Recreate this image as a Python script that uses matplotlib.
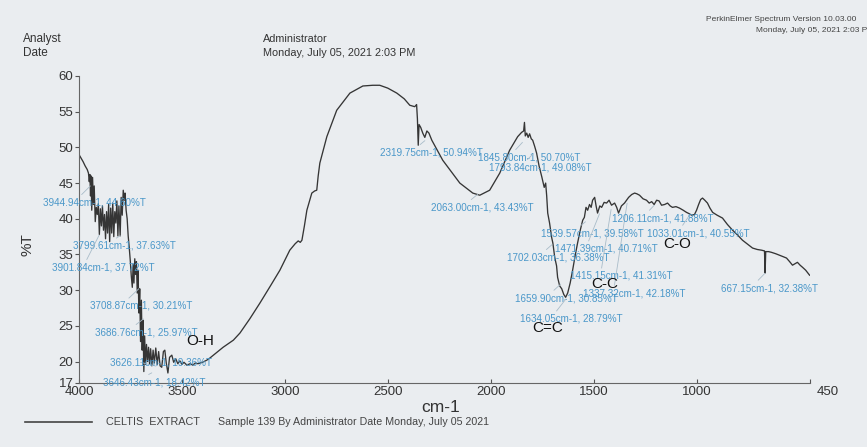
import matplotlib
matplotlib.use('Agg')
import matplotlib.pyplot as plt
import matplotlib.lines as mlines
import matplotlib.transforms as mtransforms

plt.rcParams['font.family'] = ['Liberation Sans', 'DejaVu Sans']

# FT-IR spectrum of the Celtis extract
wavenumber = [4000, 3990, 3980, 3970, 3960, 3954, 3950, 3947, 3944, 3941, 3938, 3934, 3930, 3926,
              3921, 3916, 3911, 3906, 3901, 3896, 3891, 3886, 3881, 3876, 3871, 3866, 3861, 3856,
              3851, 3846, 3841, 3836, 3831, 3826, 3821, 3816, 3811, 3806, 3800, 3795, 3790, 3785,
              3780, 3776, 3771, 3766, 3761, 3756, 3751, 3746, 3741, 3737, 3733, 3729, 3725, 3721,
              3717, 3713, 3709, 3705, 3701, 3697, 3693, 3689, 3685, 3681, 3677, 3672, 3667, 3662,
              3657, 3652, 3646, 3640, 3634, 3627, 3620, 3613, 3606, 3598, 3590, 3583, 3576, 3568,
              3560, 3549, 3540, 3530, 3520, 3510, 3500, 3490, 3476, 3460, 3447, 3435, 3422, 3400,
              3379, 3364, 3300, 3250, 3218, 3170, 3121, 3070, 3024, 2976, 2950, 2935, 2925, 2917,
              2905, 2893, 2869, 2855, 2845, 2838, 2830, 2796, 2748, 2684, 2621, 2573, 2539, 2500,
              2456, 2420, 2393, 2369, 2360, 2356, 2352, 2348, 2340, 2330, 2320, 2310, 2300, 2286,
              2233, 2150, 2087, 2053, 2005, 1956, 1908, 1869, 1850, 1840, 1836, 1832, 1825, 1818,
              1811, 1803, 1796, 1787, 1777, 1765, 1752, 1740, 1733, 1728, 1723, 1714, 1704, 1698,
              1689, 1680, 1675, 1665, 1655, 1645, 1636, 1626, 1614, 1602, 1590, 1578, 1565, 1553,
              1545, 1537, 1529, 1520, 1512, 1505, 1495, 1488, 1481, 1470, 1461, 1449, 1437, 1425,
              1413, 1398, 1388, 1379, 1365, 1350, 1340, 1330, 1315, 1301, 1290, 1277, 1260, 1243,
              1230, 1218, 1206, 1194, 1182, 1170, 1155, 1141, 1128, 1117, 1100, 1083, 1065, 1049,
              1035, 1024, 1010, 1000, 990, 980, 971, 960, 947, 935, 922, 900, 874, 850,
              825, 800, 777, 750, 728, 705, 684, 670, 667, 664, 650, 636, 615, 597,
              580, 563, 548, 534, 522, 510, 497, 485, 470, 451]
transmittance = [49.0, 48.5, 48.0, 47.4, 46.9, 46.4, 45.2, 46.2, 43.2, 46.0, 41.2, 45.8, 42.0, 44.6,
                 39.6, 41.6, 40.6, 42.1, 37.8, 41.4, 39.0, 41.8, 38.4, 40.6, 37.2, 41.0, 38.0, 42.0,
                 36.8, 41.5, 38.0, 42.2, 37.5, 41.0, 39.4, 42.5, 37.6, 41.8, 37.6, 43.0, 40.5, 44.0,
                 42.6, 43.6, 41.2, 40.0, 37.6, 36.0, 34.2, 32.0, 30.4, 33.6, 31.0, 34.4, 32.2, 34.0,
                 29.6, 32.8, 26.8, 30.2, 22.8, 28.6, 21.6, 25.8, 18.6, 23.6, 19.6, 22.4, 20.0, 22.0,
                 19.6, 21.8, 19.4, 21.6, 19.8, 21.9, 19.6, 21.4, 19.4, 19.2, 21.4, 21.6, 19.8, 18.4,
                 20.6, 20.9, 19.9, 20.4, 19.7, 20.1, 19.6, 19.9, 19.5, 19.7, 19.5, 19.8, 19.7, 19.9,
                 20.2, 20.5, 22.0, 23.0, 24.0, 26.0, 28.2, 30.6, 32.8, 35.6, 36.5, 36.9, 36.7, 37.0,
                 39.0, 41.2, 43.6, 43.9, 44.0, 46.0, 47.8, 51.5, 55.2, 57.6, 58.6, 58.7, 58.7, 58.3,
                 57.6, 56.8, 55.9, 55.7, 56.0, 54.0, 50.3, 53.2, 52.8, 52.0, 51.4, 52.3, 52.0, 51.0,
                 48.2, 45.0, 43.6, 43.3, 44.0, 46.4, 49.6, 51.5, 52.1, 52.3, 53.5, 51.6, 52.0, 51.4,
                 51.9, 51.2, 51.0, 50.2, 49.2, 47.4, 45.9, 44.4, 45.0, 43.2, 40.8, 39.4, 37.4, 36.6,
                 34.6, 33.4, 31.8, 30.6, 30.2, 29.4, 29.0, 29.6, 31.0, 32.8, 34.8, 36.6, 38.4, 39.8,
                 40.2, 41.6, 41.2, 42.0, 41.6, 42.6, 43.0, 41.8, 40.8, 41.8, 41.6, 42.3, 42.2, 42.6,
                 41.9, 42.2, 41.6, 40.8, 41.8, 42.2, 42.6, 43.0, 43.4, 43.6, 43.5, 43.3, 42.8, 42.6,
                 42.2, 42.4, 42.0, 42.6, 42.5, 41.9, 42.0, 42.2, 41.8, 41.6, 41.7, 41.5, 41.2, 40.9,
                 40.7, 40.5, 40.6, 41.2, 42.0, 42.7, 42.9, 42.6, 42.2, 41.5, 40.9, 40.5, 40.1, 39.2,
                 38.4, 37.7, 37.0, 36.4, 35.9, 35.7, 35.6, 35.5, 32.4, 35.4, 35.4, 35.3, 35.1, 34.9,
                 34.7, 34.5, 34.0, 33.5, 33.7, 33.9, 33.5, 33.2, 32.8, 32.1]

# peak labels printed by the instrument software
peak_wn = [3944.94, 3799.61, 3901.84, 3708.87, 3686.76, 3626.11, 3646.43, 2319.75, 1845.80,
           1793.84, 2063.00, 1539.57, 1033.01, 1471.39, 1702.03, 1415.15, 1337.32, 1659.90,
           1634.05, 1206.11, 667.15]
peak_t = [44.60, 37.63, 37.72, 30.21, 25.97, 19.36, 18.42, 50.94, 50.70,
          49.08, 43.43, 39.58, 40.55, 40.71, 36.38, 41.31, 42.18, 30.85,
          28.79, 41.88, 32.38]
label_x = [4175, 4029, 4131, 3947, 3922, 3850, 3883, 2539, 2063,
           2010, 2291, 1757, 1243, 1689, 1922, 1617, 1554, 1884,
           1859, 1413, 879]
label_y = [42.3, 36.2, 33.2, 27.8, 24.1, 19.9, 17.1, 49.3, 48.6,
           47.2, 41.6, 38.0, 38.0, 35.8, 34.6, 32.0, 29.6, 28.9,
           26.0, 40.1, 30.3]

groups = ['O-H', 'C=C', 'C-C', 'C-O']
group_x = [3413, 1723, 1447, 1092]
group_y = [22.9, 24.7, 30.9, 36.5]

bg = '#eaedf0'
fig = plt.figure(figsize=(8.67, 4.47), dpi=100, facecolor=bg)
ax = fig.add_axes([0.0911, 0.1432, 0.9340 - 0.0911, 0.8300 - 0.1432], facecolor=bg)

ax.plot(wavenumber, transmittance, color='#353535', lw=0.95)

for wn, t, lx, ly in zip(peak_wn, peak_t, label_x, label_y):
    ax.annotate(f'{wn:.2f}cm-1, {t:.2f}%T', xy=(wn, t), xytext=(lx, ly),
                fontsize=7.1, color='#4a97c9', ha='left', va='center',
                arrowprops=dict(arrowstyle='-', color='#a9bcc9', lw=0.6, shrinkA=0, shrinkB=0,
                                relpos=(0.3, 0.5)),
                annotation_clip=False)

for g, gx, gy in zip(groups, group_x, group_y):
    ax.text(gx, gy, g, fontsize=11, color='#111111', ha='center', va='center')

ax.set_xlim(4000, 450)
ax.set_ylim(17, 60)
ax.set_xticks([4000, 3500, 3000, 2500, 2000, 1500, 1000, 450])
ax.set_yticks([17, 20, 25, 30, 35, 40, 45, 50, 55, 60])
ax.set_yticklabels(['17', '20', '25', '30', '35', '40', '45', '50', '55', '60'])
ax.tick_params(axis='x', direction='in', length=3, labelsize=9.5, colors='#555555',
               labelcolor='#333333', pad=2)
ax.tick_params(axis='y', direction='out', length=3, labelsize=9.5, colors='#555555',
               labelcolor='#333333', pad=1)
# the printout puts the last label a bit right of the axis end
last = ax.get_xticklabels()[-1]
last.set_transform(last.get_transform() + mtransforms.ScaledTranslation(0.18, 0, fig.dpi_scale_trans))
for side in ['top', 'right']:
    ax.spines[side].set_visible(False)
for side in ['left', 'bottom']:
    ax.spines[side].set_color('#666666')
    ax.spines[side].set_linewidth(0.8)

W, H = 867, 447
fig.text(28 / W, 1 - 245 / H, '%T', rotation=90, fontsize=11, color='#333333', ha='center', va='center')
fig.text(441 / W, 1 - 408 / H, 'cm-1', fontsize=12.5, color='#333333', ha='center', va='center')

fig.text(23 / W, 1 - 39 / H, 'Analyst', fontsize=8.5, color='#333333', va='center')
fig.text(23 / W, 1 - 53 / H, 'Date', fontsize=8.5, color='#333333', va='center')
fig.text(263 / W, 1 - 39 / H, 'Administrator', fontsize=7.8, color='#333333', va='center')
fig.text(263 / W, 1 - 53 / H, 'Monday, July 05, 2021 2:03 PM', fontsize=7.8, color='#333333', va='center')
fig.text(706 / W, 1 - 19.5 / H, 'PerkinElmer Spectrum Version 10.03.00', fontsize=6.0, color='#444444', va='center')
fig.text(874 / W, 1 - 30 / H, 'Monday, July 05, 2021 2:03 PM', fontsize=6.0, color='#444444',
         va='center', ha='right')

fig.add_artist(mlines.Line2D([25 / W, 92 / W], [1 - 422 / H, 1 - 422 / H], color='#444444', lw=1.2))
fig.text(106 / W, 1 - 422 / H, 'CELTIS  EXTRACT', fontsize=7.8, color='#444444', va='center')
fig.text(218 / W, 1 - 422 / H, 'Sample 139 By Administrator Date Monday, July 05 2021',
         fontsize=7.7, color='#444444', va='center')

fig.savefig('out.png', dpi=100, facecolor=bg)
